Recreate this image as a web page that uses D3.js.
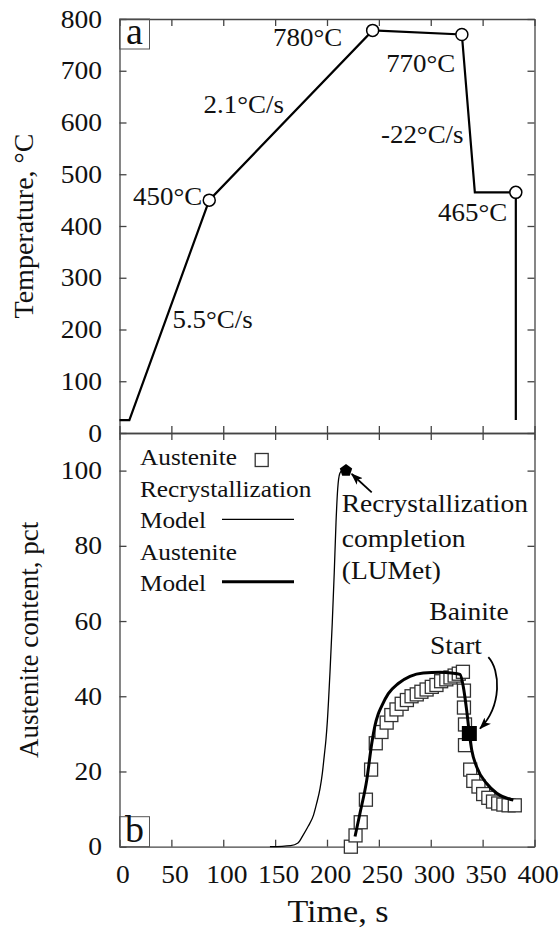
<!DOCTYPE html>
<html>
<head>
<meta charset="utf-8">
<script src="https://cdn.jsdelivr.net/npm/d3@7"></script>
<style>
  body { margin: 0; background: #fff; }
  svg text { font-family: "Liberation Serif", "DejaVu Serif", serif; fill: #111; }
</style>
</head>
<body>
<svg id="chart" width="559" height="928"></svg>
<script>
// -----------------------------------------------------------------------------
// DATA
// -----------------------------------------------------------------------------

// (a) thermal cycle
const tempTime  = [0, 9.5, 86.5, 244, 330, 342.5, 382, 382];
const tempValue = [25, 25, 450, 778, 770, 465, 465, 25];
const holdTime  = [86.5, 244, 330, 382];
const holdTemp  = [450, 778, 770, 465];
const tempLabels = [
  { t: 13,  v: 441, text: '450°C' },
  { t: 148, v: 747, text: '780°C' },
  { t: 257, v: 698, text: '770°C' },
  { t: 307, v: 410, text: '465°C' },
  { t: 81,  v: 618, text: '2.1°C/s' },
  { t: 252, v: 560, text: '-22°C/s' },
  { t: 51,  v: 202, text: '5.5°C/s' }
];

// (b) recrystallization model (thin)
const recxTime = [145, 165, 172, 177, 182, 187, 190, 193.3, 195.5, 197.4, 199, 200.3, 202.9, 205.1, 207, 208.7, 210.3, 212.4, 214.5, 218];
const recxVal  = [0, 0.3, 1, 3.1, 5.5, 8.4, 11.5, 15.5, 19.5, 24.3, 28.5, 33.2, 46.5, 59.7, 73, 86.3, 95.1, 99.3, 100, 100];

// (b) austenite measured (squares)
const austTime = [223, 227.5, 232.5, 237.5, 242.5, 247, 252.5, 257.5, 262, 267, 272, 277, 281.5, 286.5, 291, 296, 301, 305.5, 310, 315, 319, 323, 327, 331,
                  332, 332, 333, 333, 338, 341, 346, 350.5, 355.5, 360, 365, 370, 375, 381];
const austVal  = [0, 3, 6.5, 12.5, 20.5, 27.5, 30.5, 33, 35, 36.5, 38, 39, 40, 40.5, 41.2, 41.8, 42.5, 43, 44, 44.5, 45, 45.5, 46, 46.5,
                  41.5, 37, 32.5, 27, 20.5, 17.5, 16, 14, 13, 12, 11.5, 11.2, 11, 11];

// (b) austenite model (thick)
const modelTime = [227, 231.8, 238.3, 243.1, 246.3, 249.3, 252.7, 259.1, 268.7, 280, 292.8, 308.9, 320, 328.2, 331.4, 334.6, 337.2, 339.5, 344.3, 353.9, 363.6, 379.6];
const modelVal  = [2.7, 8.9, 17.7, 27.4, 32.3, 35.2, 37.4, 40.7, 43.4, 45.3, 46.2, 46.4, 46.2, 45.8, 42.5, 36.3, 30.1, 25.7, 21.2, 16.8, 14.2, 12.4];

const recxDone     = { t: 218.3, v: 100 };
const bainiteStart = { t: 337.2, v: 30.1 };

const xTicks = [0, 50, 100, 150, 200, 250, 300, 350, 400];
const tTicks = [0, 100, 200, 300, 400, 500, 600, 700, 800];
const aTicks = [0, 20, 40, 60, 80, 100];

const legendRows = ['Austenite', 'Recrystallization', 'Model', 'Austenite', 'Model'];

// -----------------------------------------------------------------------------
// SCALES
// -----------------------------------------------------------------------------

const svg = d3.select('#chart');
const X0 = 119.5, X1 = 534.5, TOP = 19, MID = 433, BOT = 846.7;
const FONT = '"Liberation Serif", "DejaVu Serif", serif';
const AXIS = '#444';
const SX = 1.1;   // the original figure is a little stretched sideways

const x  = d3.scaleLinear().domain([0, 400]).range([X0, X1]);
const yT = d3.scaleLinear().domain([0, 800]).range([MID, TOP]);
const yA = d3.scaleLinear().domain([0, 110]).range([BOT, MID]);

// horizontal text, stretched like the original
function label(px, py, str, size, anchor) {
  return svg.append('text')
    .attr('transform', `translate(${px},${py}) scale(${SX},1)`)
    .attr('text-anchor', anchor || 'start')
    .style('font-family', FONT).style('font-size', size + 'px')
    .text(str);
}

// -----------------------------------------------------------------------------
// FRAMES
// -----------------------------------------------------------------------------

function styleAxis(g) {
  g.attr('font-family', null).attr('font-size', null);
  g.selectAll('.domain').attr('stroke', AXIS).attr('stroke-width', 1.3);
  g.selectAll('.tick line').attr('stroke', AXIS).attr('stroke-width', 1.3);
  g.selectAll('.tick text').attr('fill', '#111')
    .style('font-family', FONT).style('font-size', '25px');
}

function frame(y, yTicks, y0, y1, xLabels) {
  svg.append('g').attr('transform', `translate(${X0},0)`)
    .call(d3.axisLeft(y).tickValues(yTicks).tickSizeInner(-7).tickSizeOuter(0).tickPadding(17.5 / SX))
    .call(styleAxis)
    .selectAll('.tick text').attr('transform', `scale(${SX},1)`);
  svg.append('g').attr('transform', `translate(${X1},0)`)
    .call(d3.axisRight(y).tickValues(yTicks).tickSizeInner(-7).tickSizeOuter(0).tickFormat(''))
    .call(styleAxis);
  svg.append('g').attr('transform', `translate(0,${y1})`)
    .call(d3.axisTop(x).tickValues(xTicks).tickSizeInner(-7).tickSizeOuter(0).tickFormat(''))
    .call(styleAxis);
  svg.append('g').attr('transform', `translate(0,${y0})`)
    .call(d3.axisBottom(x).tickValues(xTicks).tickSizeInner(-7).tickSizeOuter(0).tickPadding(19)
      .tickFormat(xLabels ? d3.format('d') : ''))
    .call(styleAxis)
    .selectAll('.tick text').attr('dx', 3 / SX).attr('transform', `scale(${SX},1)`);
}

frame(yT, tTicks, MID, TOP, false);
frame(yA, aTicks, BOT, MID, true);

// panel letters
[['a', TOP], ['b', BOT - 30]].forEach(([letter, top]) => {
  svg.append('rect').attr('x', X0).attr('y', top).attr('width', 30).attr('height', 30)
    .attr('fill', 'none').attr('stroke', '#555').attr('stroke-width', 1);
  svg.append('text').attr('x', X0 + 15).attr('y', top + 25).attr('text-anchor', 'middle')
    .style('font-family', FONT).style('font-size', '38px').text(letter);
});

// axis titles
svg.append('text').attr('transform', `translate(33,${(TOP + MID) / 2}) rotate(-90)`)
  .attr('text-anchor', 'middle').style('font-family', FONT).style('font-size', '28px').text('Temperature, °C');
svg.append('text').attr('transform', `translate(37.5,${(MID + BOT) / 2}) rotate(-90)`)
  .attr('text-anchor', 'middle').style('font-family', FONT).style('font-size', '27px').text('Austenite content, pct');
label(338, 922, 'Time, s', 31, 'middle');

// -----------------------------------------------------------------------------
// (a) THERMAL CYCLE
// -----------------------------------------------------------------------------

svg.append('path')
  .attr('d', d3.line().x(d => x(d[0])).y(d => yT(d[1]))(tempTime.map((t, i) => [t, tempValue[i]])))
  .attr('fill', 'none').attr('stroke', '#000').attr('stroke-width', 2.2);

svg.selectAll('circle.hold')
  .data(holdTime.map((t, i) => [t, holdTemp[i]]))
  .enter().append('circle')
  .attr('class', 'hold')
  .attr('cx', d => x(d[0])).attr('cy', d => yT(d[1])).attr('r', 6)
  .attr('fill', '#fff').attr('stroke', '#000').attr('stroke-width', 1.5);

tempLabels.forEach(l => label(x(l.t), yT(l.v), l.text, 24.5));

// -----------------------------------------------------------------------------
// (b) AUSTENITE
// -----------------------------------------------------------------------------

const SQ = 13;
svg.selectAll('rect.aust')
  .data(austTime.map((t, i) => [t, austVal[i]]))
  .enter().append('rect')
  .attr('class', 'aust')
  .attr('x', d => x(d[0]) - SQ / 2).attr('y', d => yA(d[1]) - SQ / 2)
  .attr('width', SQ).attr('height', SQ)
  .attr('fill', '#fff').attr('stroke', '#333').attr('stroke-width', 1.3);

const lineA = d3.line().x(d => x(d[0])).y(d => yA(d[1])).curve(d3.curveMonotoneX);

svg.append('path')
  .attr('d', lineA(recxTime.map((t, i) => [t, recxVal[i]])))
  .attr('fill', 'none').attr('stroke', '#000').attr('stroke-width', 1.3);

svg.append('path')
  .attr('d', lineA(modelTime.map((t, i) => [t, modelVal[i]])))
  .attr('fill', 'none').attr('stroke', '#000').attr('stroke-width', 3);

// recrystallization completion (pentagon)
const pent = d3.range(5).map(i => {
  const a = -Math.PI / 2 + i * 2 * Math.PI / 5;
  return [Math.cos(a) * 6.5, Math.sin(a) * 6.5];
});
svg.append('path')
  .attr('transform', `translate(${x(recxDone.t)},${yA(recxDone.v)})`)
  .attr('d', 'M' + pent.join('L') + 'Z')
  .attr('fill', '#000');

// bainite start (filled square)
svg.append('rect')
  .attr('x', x(bainiteStart.t) - 7.5).attr('y', yA(bainiteStart.v) - 7.5)
  .attr('width', 15).attr('height', 15).attr('fill', '#000');

// arrows
svg.append('defs').append('marker')
  .attr('id', 'arrow').attr('viewBox', '0 -5 12 10')
  .attr('refX', 11).attr('refY', 0).attr('markerWidth', 12).attr('markerHeight', 10)
  .attr('markerUnits', 'userSpaceOnUse').attr('orient', 'auto')
  .append('path').attr('d', 'M0,-4.5L12,0L0,4.5L3,0Z').attr('fill', '#000');

const p = (t, v) => [x(t), yA(v)];
const a0 = p(243.1, 94.2), a1 = p(223.8, 99.1);
svg.append('path').attr('d', `M${a0}L${a1}`)
  .attr('fill', 'none').attr('stroke', '#000').attr('stroke-width', 1.8).attr('marker-end', 'url(#arrow)');

const b0 = p(355.5, 50.4), b1 = p(367, 47), b2 = p(369, 37.5), b3 = p(347.5, 31.4);
svg.append('path').attr('d', `M${b0}C${b1} ${b2} ${b3}`)
  .attr('fill', 'none').attr('stroke', '#000').attr('stroke-width', 1.8).attr('marker-end', 'url(#arrow)');

// annotation text
[
  { t: 214.2, v: 88.9, text: 'Recrystallization' },
  { t: 214.2, v: 79.6, text: 'completion' },
  { t: 214.2, v: 71.1, text: '(LUMet)' },
  { t: 298.6, v: 60.2, text: 'Bainite' },
  { t: 299.3, v: 51.2, text: 'Start' }
].forEach(l => label(x(l.t), yA(l.v), l.text, 25));

// -----------------------------------------------------------------------------
// LEGEND
// -----------------------------------------------------------------------------

legendRows.forEach((s, i) => label(140, 465 + i * 31.5, s, 23));
svg.append('rect').attr('x', 261.7 - SQ / 2).attr('y', 460 - SQ / 2).attr('width', SQ).attr('height', SQ)
  .attr('fill', '#fff').attr('stroke', '#333').attr('stroke-width', 1.3);
svg.append('line').attr('x1', 222).attr('x2', 294).attr('y1', 519.3).attr('y2', 519.3)
  .attr('stroke', '#000').attr('stroke-width', 1.3);
svg.append('line').attr('x1', 222).attr('x2', 294).attr('y1', 581.7).attr('y2', 581.7)
  .attr('stroke', '#000').attr('stroke-width', 3);
</script>
</body>
</html>
